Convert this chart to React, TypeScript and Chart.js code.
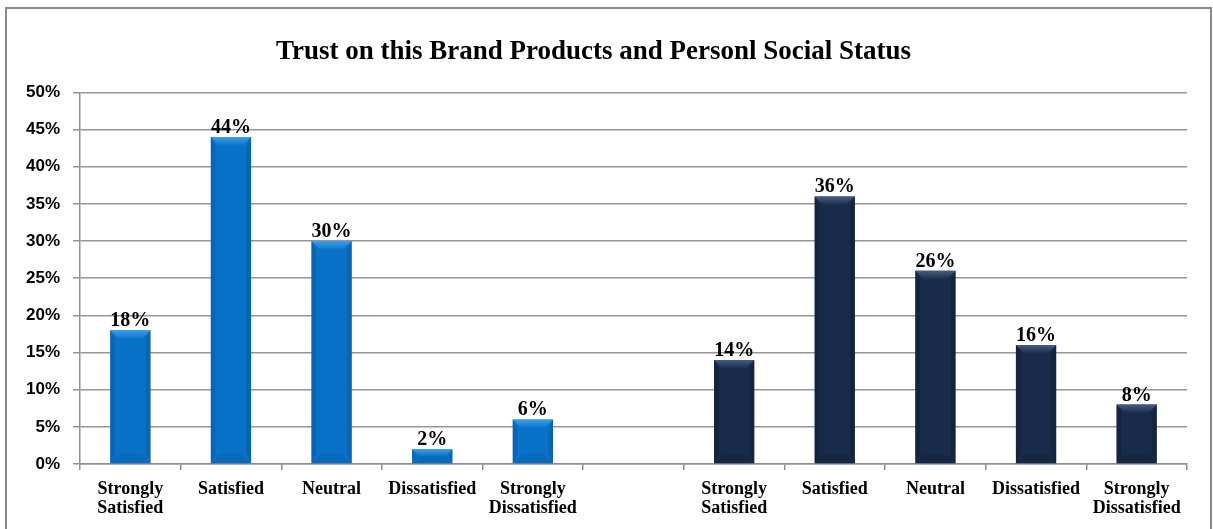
import React, { useEffect, useRef } from "react";
import { Chart, registerables } from "chart.js";

Chart.register(...registerables);

const TITLE = "Trust on this Brand Products and Personl Social Status";
const categories: (string | string[])[] = [
  ["Strongly", "Satisfied"],
  "Satisfied",
  "Neutral",
  "Dissatisfied",
  ["Strongly", "Dissatisfied"],
  "",
  ["Strongly", "Satisfied"],
  "Satisfied",
  "Neutral",
  "Dissatisfied",
  ["Strongly", "Dissatisfied"],
];
const brandTrust = [18, 44, 30, 2, 6, null, null, null, null, null, null];
const socialStatus = [null, null, null, null, null, null, 14, 36, 26, 16, 8];
const yTicks = [0, 5, 10, 15, 20, 25, 30, 35, 40, 45, 50];

const BLUE = "#0872c9";
const BLUE_LIGHT = "#3f9fe8";
const BLUE_DARK = "#05589f";
const NAVY = "#182b4a";
const NAVY_LIGHT = "#435d80";
const NAVY_DARK = "#0f1d33";

const bevelPlugin = {
  id: "bevel",
  afterDatasetsDraw(chart: any) {
    const ctx = chart.ctx;
    chart.data.datasets.forEach((ds: any, di: number) => {
      const meta = chart.getDatasetMeta(di);
      const light = di === 0 ? BLUE_LIGHT : NAVY_LIGHT;
      const dark = di === 0 ? BLUE_DARK : NAVY_DARK;
      meta.data.forEach((bar: any, i: number) => {
        const v = ds.data[i];
        if (v === null || v === undefined) return;
        const { x, y, base, width } = bar.getProps(["x", "y", "base", "width"], true);
        const l = x - width / 2;
        const r = x + width / 2;
        const h = base - y;
        const b = Math.min(9, h / 2);
        ctx.save();
        const g = ctx.createLinearGradient(0, y, 0, y + b);
        g.addColorStop(0, light);
        g.addColorStop(1, di === 0 ? BLUE : NAVY);
        ctx.fillStyle = g;
        ctx.beginPath();
        ctx.moveTo(l, y);
        ctx.lineTo(r, y);
        ctx.lineTo(r - b, y + b);
        ctx.lineTo(l + b, y + b);
        ctx.closePath();
        ctx.fill();
        ctx.fillStyle = dark;
        ctx.globalAlpha = 0.5;
        ctx.beginPath();
        ctx.moveTo(l, y);
        ctx.lineTo(l + b * 0.5, y + b);
        ctx.lineTo(l + b * 0.5, base - b);
        ctx.lineTo(l, base);
        ctx.closePath();
        ctx.fill();
        ctx.beginPath();
        ctx.moveTo(r, y);
        ctx.lineTo(r - b * 0.5, y + b);
        ctx.lineTo(r - b * 0.5, base - b);
        ctx.lineTo(r, base);
        ctx.closePath();
        ctx.fill();
        ctx.globalAlpha = 0.3;
        ctx.beginPath();
        ctx.moveTo(l, base);
        ctx.lineTo(l + b, base - b);
        ctx.lineTo(r - b, base - b);
        ctx.lineTo(r, base);
        ctx.closePath();
        ctx.fill();
        ctx.restore();
        ctx.save();
        ctx.fillStyle = "#000";
        ctx.font = "bold 20px 'Liberation Serif', 'Times New Roman', serif";
        ctx.textAlign = "center";
        ctx.textBaseline = "alphabetic";
        ctx.fillText(v + "%", x, y - 4);
        ctx.restore();
      });
    });
  },
};

export default function App() {
  const ref = useRef<HTMLCanvasElement | null>(null);
  useEffect(() => {
    if (!ref.current) return;
    const chart = new Chart(ref.current, {
      type: "bar",
      data: {
        labels: categories,
        datasets: [
          {
            label: "Trust on this Brand Products",
            data: brandTrust,
            backgroundColor: BLUE,
            borderWidth: 0,
            grouped: false,
            barPercentage: 0.4,
            categoryPercentage: 1,
          },
          {
            label: "Personl Social Status",
            data: socialStatus,
            backgroundColor: NAVY,
            borderWidth: 0,
            grouped: false,
            barPercentage: 0.4,
            categoryPercentage: 1,
          },
        ],
      },
      options: {
        responsive: false,
        animation: false,
        devicePixelRatio: 1,
        layout: { padding: { left: 0, right: 26, top: 0, bottom: 0 } },
        plugins: {
          legend: { display: false },
          tooltip: { enabled: false },
          title: {
            display: true,
            text: TITLE,
            color: "#000",
            font: { family: "'Liberation Serif', 'Times New Roman', serif", size: 27, weight: "bold", lineHeight: 1.2 },
            padding: { top: 36, bottom: 24 },
          },
        },
        scales: {
          x: {
            grid: {
              display: true,
              drawOnChartArea: false,
              drawTicks: true,
              tickLength: 6,
              offset: true,
              color: "#8f8f8f",
              lineWidth: 1.5,
            },
            border: { display: true, color: "#8f8f8f", width: 1.5 },
            ticks: {
              color: "#000",
              padding: 9,
              maxRotation: 0,
              autoSkip: false,
              font: { family: "'Liberation Serif', 'Times New Roman', serif", size: 18, weight: "bold", lineHeight: 1.1 },
            },
            afterFit(scale: any) {
              scale.height = 65;
            },
          },
          y: {
            min: yTicks[0],
            max: yTicks[yTicks.length - 1],
            afterBuildTicks(scale: any) {
              scale.ticks = yTicks.map((v) => ({ value: v }));
            },
            grid: { color: "#959595", lineWidth: 1.5, tickLength: 7, drawTicks: true },
            border: { display: true, color: "#8f8f8f", width: 1.5 },
            ticks: {
              color: "#000",
              padding: 13,
              font: { family: "'Liberation Sans', Arial, sans-serif", size: 17, weight: "bold" },
              callback: (v: any) => v + "%",
            },
            afterFit(scale: any) {
              scale.width = 80;
            },
          },
        },
      } as any,
      plugins: [bevelPlugin],
    });
    return () => chart.destroy();
  }, []);

  return (
    <div style={{ position: "absolute", left: 0, top: 0, width: 1213, height: 529, overflow: "hidden", background: "#fff" }}>
      <div
        style={{
          position: "absolute",
          left: 5,
          top: 7,
          width: 1207,
          height: 560,
          border: "2px solid #8a8a8a",
          boxSizing: "border-box",
        }}
      />
      <canvas ref={ref} width={1213} height={529} style={{ position: "absolute", left: 0, top: 0 }} />
    </div>
  );
}
